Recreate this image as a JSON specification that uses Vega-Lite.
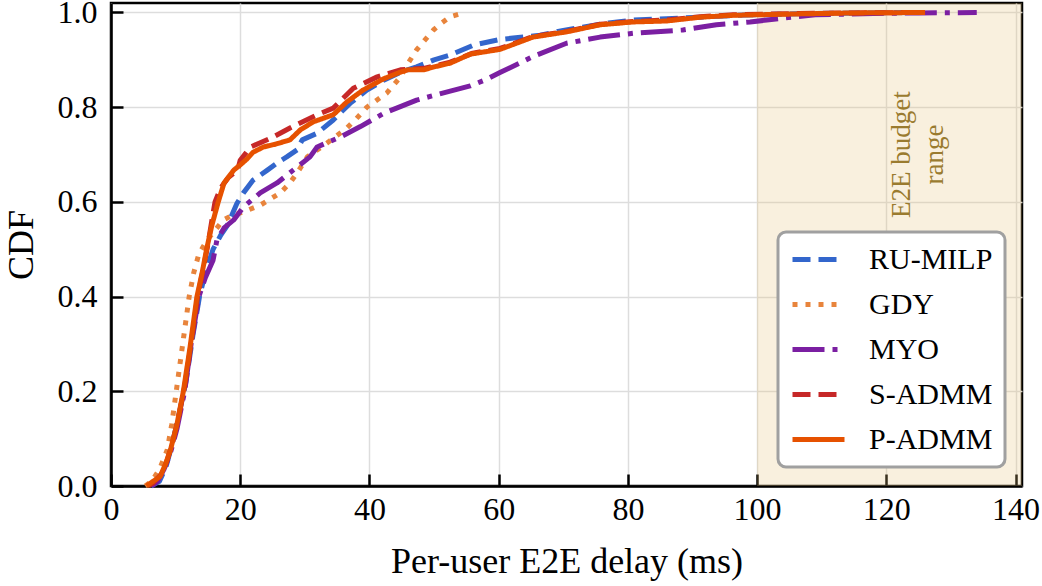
{
  "$schema": "https://vega.github.io/schema/vega-lite/v6.json",
  "autosize": "none",
  "padding": {"left": 111, "top": 3, "right": 20, "bottom": 100},
  "width": 911,
  "height": 483,
  "background": "white",
  "config": {
    "font": "Liberation Serif",
    "view": {"stroke": "black", "strokeWidth": 2.5},
    "axis": {
      "domainColor": "black",
      "domainWidth": 2.5,
      "tickColor": "black",
      "tickWidth": 2.5,
      "tickSize": -12,
      "gridColor": "#dddddd",
      "gridWidth": 1.5,
      "labelFont": "Liberation Serif",
      "labelFontSize": 32,
      "labelColor": "black",
      "labelFlush": false,
      "titleFont": "Liberation Serif",
      "titleFontSize": 36,
      "titleFontWeight": "normal",
      "titleColor": "black"
    },
    "legend": {
      "orient": "none",
      "legendX": 667,
      "legendY": 229,
      "fillColor": "#ffffff",
      "strokeColor": "#a0a0a0",
      "strokeWidth": 3,
      "cornerRadius": 8,
      "padding": 12,
      "labelFont": "Liberation Serif",
      "labelFontSize": 30,
      "labelColor": "black",
      "labelOffset": 48,
      "symbolType": "M-1,0H3",
      "symbolSize": 676,
      "symbolStrokeWidth": 5,
      "rowPadding": 14
    }
  },
  "layer": [
    {
      "data": {"values": [{"lo": 100, "hi": 141}]},
      "mark": {"type": "rect", "color": "#e6c27a", "opacity": 0.25},
      "encoding": {
        "x": {"field": "lo", "type": "quantitative"},
        "x2": {"field": "hi"}
      }
    },
    {
      "data": {"values": [
        {"s": "RU-MILP", "x": 6.2, "y": 0}, {"s": "RU-MILP", "x": 7.5, "y": 0.01}, {"s": "RU-MILP", "x": 8.5, "y": 0.04},
        {"s": "RU-MILP", "x": 9.5, "y": 0.09}, {"s": "RU-MILP", "x": 10.5, "y": 0.15}, {"s": "RU-MILP", "x": 11.6, "y": 0.22},
        {"s": "RU-MILP", "x": 12.7, "y": 0.32}, {"s": "RU-MILP", "x": 13.7, "y": 0.4}, {"s": "RU-MILP", "x": 14.6, "y": 0.45},
        {"s": "RU-MILP", "x": 15.8, "y": 0.5}, {"s": "RU-MILP", "x": 17, "y": 0.53}, {"s": "RU-MILP", "x": 18, "y": 0.55},
        {"s": "RU-MILP", "x": 19.5, "y": 0.597}, {"s": "RU-MILP", "x": 20.5, "y": 0.619}, {"s": "RU-MILP", "x": 22, "y": 0.646},
        {"s": "RU-MILP", "x": 24.2, "y": 0.667}, {"s": "RU-MILP", "x": 26, "y": 0.685}, {"s": "RU-MILP", "x": 27.2, "y": 0.695},
        {"s": "RU-MILP", "x": 28.8, "y": 0.71}, {"s": "RU-MILP", "x": 29.6, "y": 0.731}, {"s": "RU-MILP", "x": 31.9, "y": 0.745},
        {"s": "RU-MILP", "x": 34.4, "y": 0.773}, {"s": "RU-MILP", "x": 37, "y": 0.808}, {"s": "RU-MILP", "x": 39.6, "y": 0.836},
        {"s": "RU-MILP", "x": 42.2, "y": 0.857}, {"s": "RU-MILP", "x": 45, "y": 0.875}, {"s": "RU-MILP", "x": 47.3, "y": 0.885},
        {"s": "RU-MILP", "x": 50, "y": 0.9}, {"s": "RU-MILP", "x": 52.5, "y": 0.91}, {"s": "RU-MILP", "x": 56.1, "y": 0.931},
        {"s": "RU-MILP", "x": 60.2, "y": 0.943}, {"s": "RU-MILP", "x": 63, "y": 0.947}, {"s": "RU-MILP", "x": 66.4, "y": 0.952},
        {"s": "RU-MILP", "x": 70, "y": 0.962}, {"s": "RU-MILP", "x": 73, "y": 0.969}, {"s": "RU-MILP", "x": 77, "y": 0.978},
        {"s": "RU-MILP", "x": 80.8, "y": 0.984}, {"s": "RU-MILP", "x": 86, "y": 0.987}, {"s": "RU-MILP", "x": 91.2, "y": 0.99},
        {"s": "RU-MILP", "x": 97, "y": 0.994}, {"s": "RU-MILP", "x": 103, "y": 0.996}, {"s": "RU-MILP", "x": 109, "y": 0.998},
        {"s": "RU-MILP", "x": 118, "y": 0.999}, {"s": "RU-MILP", "x": 125.5, "y": 1.0},

        {"s": "GDY", "x": 5.3, "y": 0}, {"s": "GDY", "x": 6.3, "y": 0.01}, {"s": "GDY", "x": 7.5, "y": 0.035},
        {"s": "GDY", "x": 8.7, "y": 0.076}, {"s": "GDY", "x": 9.4, "y": 0.13}, {"s": "GDY", "x": 10.1, "y": 0.2},
        {"s": "GDY", "x": 11.1, "y": 0.3}, {"s": "GDY", "x": 12.1, "y": 0.4}, {"s": "GDY", "x": 12.8, "y": 0.45},
        {"s": "GDY", "x": 13.6, "y": 0.49}, {"s": "GDY", "x": 14.9, "y": 0.52}, {"s": "GDY", "x": 16.1, "y": 0.54},
        {"s": "GDY", "x": 17.4, "y": 0.562}, {"s": "GDY", "x": 18.8, "y": 0.572}, {"s": "GDY", "x": 20.5, "y": 0.579},
        {"s": "GDY", "x": 23.1, "y": 0.593}, {"s": "GDY", "x": 26.2, "y": 0.619}, {"s": "GDY", "x": 27.7, "y": 0.64},
        {"s": "GDY", "x": 29, "y": 0.665}, {"s": "GDY", "x": 30.4, "y": 0.695}, {"s": "GDY", "x": 33.4, "y": 0.724},
        {"s": "GDY", "x": 36.5, "y": 0.756}, {"s": "GDY", "x": 38, "y": 0.776}, {"s": "GDY", "x": 39.6, "y": 0.8},
        {"s": "GDY", "x": 42.7, "y": 0.83}, {"s": "GDY", "x": 44.8, "y": 0.864}, {"s": "GDY", "x": 46, "y": 0.893},
        {"s": "GDY", "x": 47.3, "y": 0.921}, {"s": "GDY", "x": 48.6, "y": 0.942}, {"s": "GDY", "x": 49.9, "y": 0.963},
        {"s": "GDY", "x": 51.2, "y": 0.978}, {"s": "GDY", "x": 52.5, "y": 0.991}, {"s": "GDY", "x": 54.8, "y": 1.0},

        {"s": "MYO", "x": 6.3, "y": 0}, {"s": "MYO", "x": 7.2, "y": 0.01}, {"s": "MYO", "x": 8.2, "y": 0.035},
        {"s": "MYO", "x": 9.2, "y": 0.07}, {"s": "MYO", "x": 10.2, "y": 0.12}, {"s": "MYO", "x": 11.4, "y": 0.2},
        {"s": "MYO", "x": 12.4, "y": 0.3}, {"s": "MYO", "x": 13.6, "y": 0.4}, {"s": "MYO", "x": 14.6, "y": 0.44},
        {"s": "MYO", "x": 15.8, "y": 0.477}, {"s": "MYO", "x": 16.4, "y": 0.52}, {"s": "MYO", "x": 17.5, "y": 0.545},
        {"s": "MYO", "x": 19, "y": 0.562}, {"s": "MYO", "x": 20.5, "y": 0.589}, {"s": "MYO", "x": 23.1, "y": 0.619},
        {"s": "MYO", "x": 25.7, "y": 0.64}, {"s": "MYO", "x": 28.2, "y": 0.667}, {"s": "MYO", "x": 30.8, "y": 0.695},
        {"s": "MYO", "x": 31.9, "y": 0.716}, {"s": "MYO", "x": 35.5, "y": 0.737}, {"s": "MYO", "x": 38.6, "y": 0.759},
        {"s": "MYO", "x": 42.2, "y": 0.787}, {"s": "MYO", "x": 47.3, "y": 0.815}, {"s": "MYO", "x": 52.5, "y": 0.834},
        {"s": "MYO", "x": 55.6, "y": 0.845}, {"s": "MYO", "x": 58, "y": 0.858}, {"s": "MYO", "x": 60.2, "y": 0.873},
        {"s": "MYO", "x": 65.3, "y": 0.907}, {"s": "MYO", "x": 70.5, "y": 0.935}, {"s": "MYO", "x": 75.7, "y": 0.948},
        {"s": "MYO", "x": 80.8, "y": 0.956}, {"s": "MYO", "x": 88.5, "y": 0.963}, {"s": "MYO", "x": 93.7, "y": 0.974},
        {"s": "MYO", "x": 98.9, "y": 0.98}, {"s": "MYO", "x": 101.5, "y": 0.984}, {"s": "MYO", "x": 104, "y": 0.988},
        {"s": "MYO", "x": 109, "y": 0.995}, {"s": "MYO", "x": 118, "y": 0.998}, {"s": "MYO", "x": 125, "y": 0.999},
        {"s": "MYO", "x": 134, "y": 1.0},

        {"s": "S-ADMM", "x": 5.8, "y": 0}, {"s": "S-ADMM", "x": 6.5, "y": 0.006}, {"s": "S-ADMM", "x": 7.8, "y": 0.025},
        {"s": "S-ADMM", "x": 8.6, "y": 0.05}, {"s": "S-ADMM", "x": 9.4, "y": 0.085}, {"s": "S-ADMM", "x": 10.4, "y": 0.14},
        {"s": "S-ADMM", "x": 11.4, "y": 0.21}, {"s": "S-ADMM", "x": 12.4, "y": 0.3}, {"s": "S-ADMM", "x": 13.4, "y": 0.4},
        {"s": "S-ADMM", "x": 14.3, "y": 0.46}, {"s": "S-ADMM", "x": 15, "y": 0.51}, {"s": "S-ADMM", "x": 15.6, "y": 0.56},
        {"s": "S-ADMM", "x": 16.1, "y": 0.6}, {"s": "S-ADMM", "x": 17, "y": 0.63}, {"s": "S-ADMM", "x": 18.2, "y": 0.652},
        {"s": "S-ADMM", "x": 19.6, "y": 0.667}, {"s": "S-ADMM", "x": 20, "y": 0.688}, {"s": "S-ADMM", "x": 21.6, "y": 0.716},
        {"s": "S-ADMM", "x": 25.1, "y": 0.737}, {"s": "S-ADMM", "x": 27.7, "y": 0.756}, {"s": "S-ADMM", "x": 31.9, "y": 0.784},
        {"s": "S-ADMM", "x": 34.4, "y": 0.798}, {"s": "S-ADMM", "x": 37.5, "y": 0.84}, {"s": "S-ADMM", "x": 41.2, "y": 0.864},
        {"s": "S-ADMM", "x": 44.8, "y": 0.879}, {"s": "S-ADMM", "x": 48.4, "y": 0.882}, {"s": "S-ADMM", "x": 52.5, "y": 0.895},
        {"s": "S-ADMM", "x": 56, "y": 0.914}, {"s": "S-ADMM", "x": 60.2, "y": 0.924}, {"s": "S-ADMM", "x": 65.3, "y": 0.949},
        {"s": "S-ADMM", "x": 70.5, "y": 0.96}, {"s": "S-ADMM", "x": 75.7, "y": 0.975}, {"s": "S-ADMM", "x": 80.8, "y": 0.981},
        {"s": "S-ADMM", "x": 86, "y": 0.984}, {"s": "S-ADMM", "x": 91.2, "y": 0.991}, {"s": "S-ADMM", "x": 96.3, "y": 0.995},
        {"s": "S-ADMM", "x": 106.6, "y": 0.998}, {"s": "S-ADMM", "x": 115, "y": 0.999}, {"s": "S-ADMM", "x": 125, "y": 1.0},

        {"s": "P-ADMM", "x": 5.5, "y": 0}, {"s": "P-ADMM", "x": 6.1, "y": 0.006}, {"s": "P-ADMM", "x": 7.6, "y": 0.02},
        {"s": "P-ADMM", "x": 8.4, "y": 0.045}, {"s": "P-ADMM", "x": 9.2, "y": 0.076}, {"s": "P-ADMM", "x": 10.2, "y": 0.13},
        {"s": "P-ADMM", "x": 11.2, "y": 0.2}, {"s": "P-ADMM", "x": 12.2, "y": 0.29}, {"s": "P-ADMM", "x": 13.3, "y": 0.4},
        {"s": "P-ADMM", "x": 14.1, "y": 0.45}, {"s": "P-ADMM", "x": 14.8, "y": 0.5}, {"s": "P-ADMM", "x": 15.6, "y": 0.55},
        {"s": "P-ADMM", "x": 16.6, "y": 0.6}, {"s": "P-ADMM", "x": 17.5, "y": 0.64}, {"s": "P-ADMM", "x": 19, "y": 0.667},
        {"s": "P-ADMM", "x": 20, "y": 0.678}, {"s": "P-ADMM", "x": 21, "y": 0.69}, {"s": "P-ADMM", "x": 22, "y": 0.705},
        {"s": "P-ADMM", "x": 23.6, "y": 0.716}, {"s": "P-ADMM", "x": 25.5, "y": 0.722}, {"s": "P-ADMM", "x": 27.7, "y": 0.731},
        {"s": "P-ADMM", "x": 29.3, "y": 0.752}, {"s": "P-ADMM", "x": 31.3, "y": 0.769}, {"s": "P-ADMM", "x": 34.4, "y": 0.784},
        {"s": "P-ADMM", "x": 36.5, "y": 0.811}, {"s": "P-ADMM", "x": 39, "y": 0.836}, {"s": "P-ADMM", "x": 42.2, "y": 0.86},
        {"s": "P-ADMM", "x": 44.8, "y": 0.874}, {"s": "P-ADMM", "x": 46, "y": 0.879}, {"s": "P-ADMM", "x": 48.4, "y": 0.879},
        {"s": "P-ADMM", "x": 50, "y": 0.885}, {"s": "P-ADMM", "x": 52.5, "y": 0.893}, {"s": "P-ADMM", "x": 55.6, "y": 0.912},
        {"s": "P-ADMM", "x": 60.2, "y": 0.922}, {"s": "P-ADMM", "x": 65.3, "y": 0.948}, {"s": "P-ADMM", "x": 70.5, "y": 0.959},
        {"s": "P-ADMM", "x": 75.7, "y": 0.974}, {"s": "P-ADMM", "x": 80.8, "y": 0.98}, {"s": "P-ADMM", "x": 86, "y": 0.982},
        {"s": "P-ADMM", "x": 91.2, "y": 0.99}, {"s": "P-ADMM", "x": 96.3, "y": 0.994}, {"s": "P-ADMM", "x": 106.6, "y": 0.997},
        {"s": "P-ADMM", "x": 115, "y": 0.999}, {"s": "P-ADMM", "x": 126, "y": 1.0}
      ]},
      "mark": {"type": "line", "strokeWidth": 5, "strokeJoin": "round"},
      "encoding": {
        "x": {
          "field": "x", "type": "quantitative",
          "scale": {"domain": [0, 141], "nice": false, "zero": false},
          "axis": {"values": [0, 20, 40, 60, 80, 100, 120, 140], "labelPadding": 20, "titlePadding": 19},
          "title": "Per-user E2E delay (ms)"
        },
        "y": {
          "field": "y", "type": "quantitative",
          "scale": {"domain": [0, 1.02], "nice": false},
          "axis": {"values": [0, 0.2, 0.4, 0.6, 0.8, 1.0], "format": ".1f", "labelPadding": 26, "titlePadding": 17},
          "title": "CDF"
        },
        "color": {
          "field": "s", "type": "nominal", "title": null,
          "scale": {
            "domain": ["RU-MILP", "GDY", "MYO", "S-ADMM", "P-ADMM"],
            "range": ["#3366cc", "#e8843c", "#7b1fa2", "#c62828", "#e65100"]
          }
        },
        "strokeDash": {
          "field": "s", "type": "nominal", "title": null,
          "scale": {
            "domain": ["RU-MILP", "GDY", "MYO", "S-ADMM", "P-ADMM"],
            "range": [[18, 8], [5, 8], [32, 8, 5, 8], [18, 8], [1, 0]]
          }
        }
      }
    },
    {
      "data": {"values": [{"x": 122.5, "y": 0.7, "t": "E2E budget\nrange"}]},
      "mark": {
        "type": "text", "angle": 270, "align": "center", "baseline": "middle",
        "lineBreak": "\n", "lineHeight": 33, "fontSize": 27,
        "font": "Liberation Serif", "color": "#9a7b2f"
      },
      "encoding": {
        "x": {"field": "x", "type": "quantitative"},
        "y": {"field": "y", "type": "quantitative"},
        "text": {"field": "t"}
      }
    }
  ]
}
